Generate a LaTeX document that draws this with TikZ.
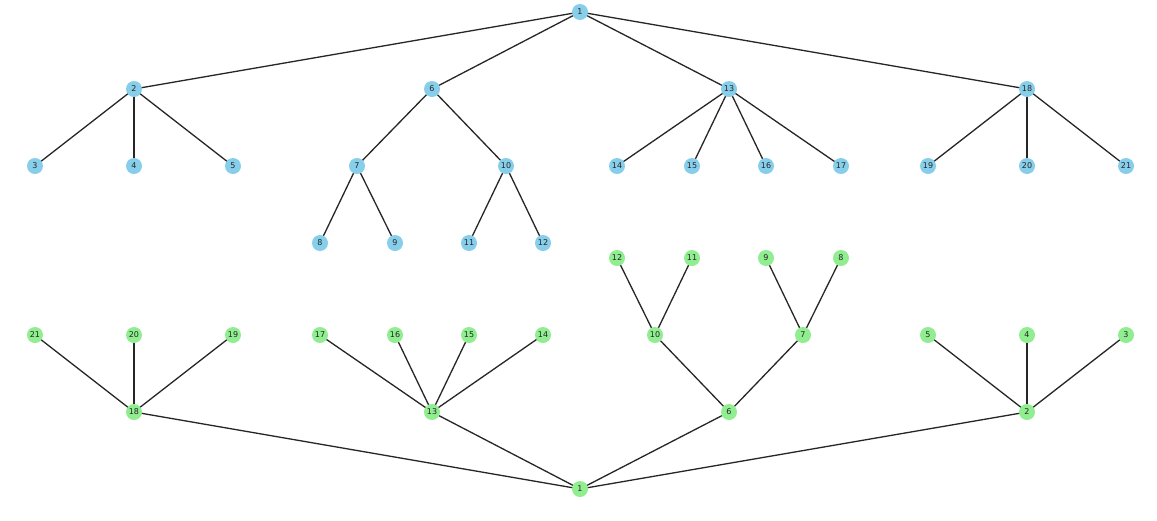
\documentclass[tikz,border=0pt]{standalone}
\usepackage{fontspec}
\setmainfont{DejaVu Sans}
\usetikzlibrary{backgrounds}
\definecolor{skyb}{RGB}{135,206,235}
\definecolor{lgreen}{RGB}{144,238,144}
\tikzset{
  vtx/.style={circle,inner sep=0pt,minimum size=16pt,font=\fontsize{8}{9}\selectfont,text=black!85},
  bluev/.style={vtx,fill=skyb},
  greenv/.style={vtx,fill=lgreen},
  edge/.style={draw=black!85,line width=1.3pt}
}
\begin{document}
\begin{tikzpicture}[x=1pt,y=-1pt]
\useasboundingbox (0,0) rectangle (1157,520);
% blue tree
\node[bluev] (b1) at (580,12) {1};
\node[bluev] (b2) at (134,89) {2};
\node[bluev] (b6) at (432,89) {6};
\node[bluev] (b13) at (729,89) {13};
\node[bluev] (b18) at (1027,89) {18};
\node[bluev] (b3) at (35,166) {3};
\node[bluev] (b4) at (134,166) {4};
\node[bluev] (b5) at (233,166) {5};
\node[bluev] (b7) at (357,166) {7};
\node[bluev] (b10) at (506,166) {10};
\node[bluev] (b8) at (320,243) {8};
\node[bluev] (b9) at (395,243) {9};
\node[bluev] (b11) at (469,243) {11};
\node[bluev] (b12) at (543,243) {12};
\node[bluev] (b14) at (617,166) {14};
\node[bluev] (b15) at (692,166) {15};
\node[bluev] (b16) at (766,166) {16};
\node[bluev] (b17) at (841,166) {17};
\node[bluev] (b19) at (928,166) {19};
\node[bluev] (b20) at (1027,166) {20};
\node[bluev] (b21) at (1126,166) {21};
% green tree
\node[greenv] (g1) at (580,489) {1};
\node[greenv] (g18) at (134,412) {18};
\node[greenv] (g13) at (432,412) {13};
\node[greenv] (g6) at (729,412) {6};
\node[greenv] (g2) at (1027,412) {2};
\node[greenv] (g21) at (35,335) {21};
\node[greenv] (g20) at (134,335) {20};
\node[greenv] (g19) at (233,335) {19};
\node[greenv] (g17) at (320,335) {17};
\node[greenv] (g16) at (395,335) {16};
\node[greenv] (g15) at (469,335) {15};
\node[greenv] (g14) at (543,335) {14};
\node[greenv] (g10) at (655,335) {10};
\node[greenv] (g7) at (803,335) {7};
\node[greenv] (g12) at (617,258) {12};
\node[greenv] (g11) at (692,258) {11};
\node[greenv] (g9) at (766,258) {9};
\node[greenv] (g8) at (841,258) {8};
\node[greenv] (g5) at (928,335) {5};
\node[greenv] (g4) at (1027,335) {4};
\node[greenv] (g3) at (1126,335) {3};
\begin{scope}[on background layer]
\fill[white] (0,0) rectangle (1157,520);
\foreach \a/\b in {1/2,1/6,1/13,1/18,2/3,2/4,2/5,6/7,6/10,7/8,7/9,10/11,10/12,13/14,13/15,13/16,13/17,18/19,18/20,18/21}{
  \draw[edge] (b\a.center) -- (b\b.center);
  \draw[edge] (g\a.center) -- (g\b.center);
}
\end{scope}
\end{tikzpicture}
\end{document}
